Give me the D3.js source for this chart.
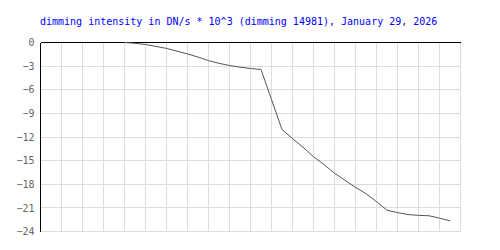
<!DOCTYPE html>
<html>
<head>
<meta charset="utf-8">
<script src="https://cdn.jsdelivr.net/npm/d3@7"></script>
<style>
    body { margin: 0; background: #fff; }
</style>
</head>
<body>
<svg id="chart" width="500" height="250"></svg>
<script>

// Title text
const titleText = 'dimming intensity in DN/s * 10^3 (dimming 14981), January 29, 2026';

// Time slots (half grid steps) and dimming values
const timeSlots = [8, 9, 10, 11, 12, 13, 14, 15, 16, 17, 18, 19, 20, 21, 22, 23,
    24, 25, 26, 27, 28, 29, 30, 31, 32, 33, 34, 35, 36, 37, 38, 39];
const dimmingValues = [0, -0.1, -0.25, -0.5, -0.75, -1.1, -1.45, -1.85, -2.3, -2.65, -2.92, -3.13, -3.3, -3.43, -7.25, -11.05,
    -12.2, -13.3, -14.5, -15.5, -16.6, -17.5, -18.4, -19.2, -20.2, -21.3, -21.6, -21.85, -21.95, -22.0, -22.3, -22.65];

// Axis ticks
const yTicks = [0, -3, -6, -9, -12, -15, -18, -21, -24];
const xGridTicks = d3.range(0, 41, 2);

const svg = d3.select('#chart');

// Plot area edges
const plotLeft = 40.5, plotRight = 460.5, plotTop = 42.5, plotBottom = 231.5;

const xScale = d3.scaleLinear()
    .domain([0, 40])
    .range([plotLeft, plotRight]);

const yScale = d3.scaleLinear()
    .domain([-24, 0])
    .range([plotBottom, plotTop]);

/* Title */
svg.append('text')
    .attr('x', 40)
    .attr('y', 25)
    .attr('fill', '#0000ff')
    .style('font-family', '"DejaVu Sans Mono", monospace')
    .style('font-size', '10px')
    .text(titleText);

/* Grid lines */
svg.append('g')
    .selectAll('line')
    .data(xGridTicks)
    .join('line')
    .attr('x1', d => xScale(d))
    .attr('x2', d => xScale(d))
    .attr('y1', plotTop)
    .attr('y2', plotBottom)
    .attr('stroke', '#dddddd')
    .attr('shape-rendering', 'crispEdges');

svg.append('g')
    .selectAll('line')
    .data(yTicks)
    .join('line')
    .attr('x1', plotLeft)
    .attr('x2', plotRight)
    .attr('y1', d => yScale(d))
    .attr('y2', d => yScale(d))
    .attr('stroke', '#dddddd')
    .attr('shape-rendering', 'crispEdges');

/* Y axis labels */
const yAxis = svg.append('g')
    .attr('transform', `translate(${plotLeft},0)`)
    .call(d3.axisLeft(yScale)
        .tickValues(yTicks)
        .tickSize(0)
        .tickPadding(6)
        .tickFormat(d => d3.format('d')(d).replace('-', '\u2212'))
    );

yAxis.select('.domain').remove();
yAxis.selectAll('text')
    .attr('fill', '#666666')
    .style('font-family', '"DejaVu Sans Mono", monospace')
    .style('font-size', '10px');

/* Axis lines (left and top) */
svg.append('line')
    .attr('x1', plotLeft).attr('x2', plotLeft)
    .attr('y1', plotTop).attr('y2', plotBottom)
    .attr('stroke', '#000')
    .attr('shape-rendering', 'crispEdges');

svg.append('line')
    .attr('x1', plotLeft).attr('x2', plotRight)
    .attr('y1', plotTop).attr('y2', plotTop)
    .attr('stroke', '#000')
    .attr('shape-rendering', 'crispEdges');

/* Data line */
const lineData = timeSlots.map((t, i) => ({ t: t, v: dimmingValues[i] }));

svg.append('path')
    .datum(lineData)
    .attr('fill', 'none')
    .attr('stroke', '#555555')
    .attr('stroke-width', 1)
    .attr('d', d3.line()
        .x(d => xScale(d.t))
        .y(d => yScale(d.v))
    );

</script>
</body>
</html>
